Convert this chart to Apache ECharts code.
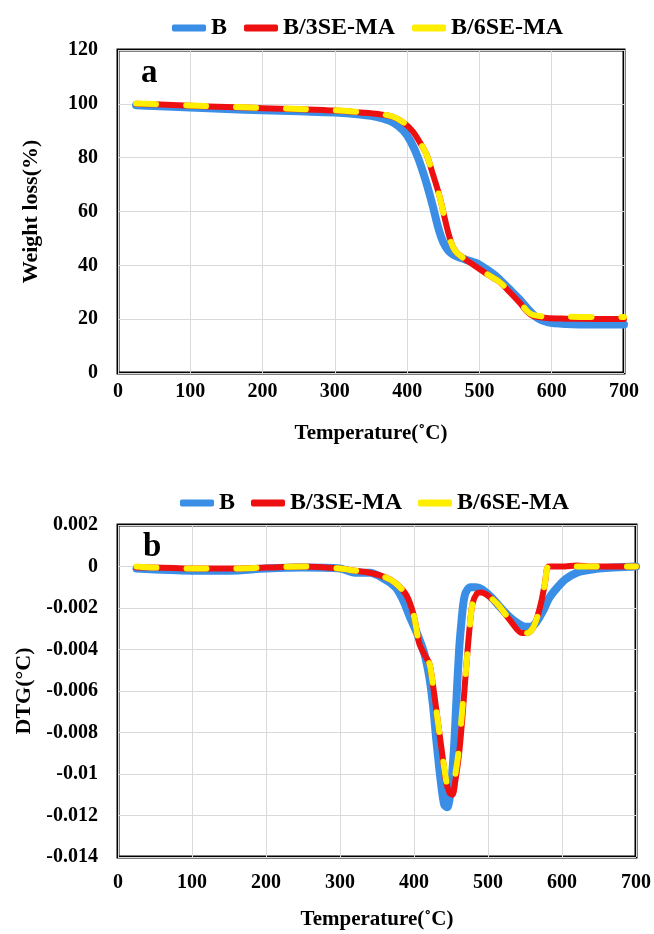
<!DOCTYPE html>
<html>
<head>
<meta charset="utf-8">
<title>TGA / DTG</title>
<script src="https://cdn.jsdelivr.net/npm/echarts@6/dist/echarts.min.js"></script>
<style>
html,body{margin:0;padding:0;background:#fff;}
#chart{width:654px;height:934px;}
</style>
</head>
<body>
<div id="chart"></div>
<script>
// 图例名称
var seriesNames = ['B', 'B/3SE-MA', 'B/6SE-MA'];
var xTicks = [0, 100, 200, 300, 400, 500, 600, 700];

// a: TGA 失重曲线
var tgaTempB = [25, 50, 100, 150, 200, 250, 300, 335, 360, 380, 395, 405, 415, 425, 435, 443, 450, 457, 465, 480, 496, 510, 525, 540, 555, 568, 580, 595, 620, 660, 700];
var tgaB     = [99.5, 99.2, 98.6, 98.1, 97.6, 97.2, 96.8, 96.0, 95.0, 93.2, 90.0, 86.0, 80.0, 72.0, 62.5, 54.0, 48.5, 45.5, 43.8, 42.2, 40.8, 38.5, 35.5, 31.5, 27.5, 23.5, 20.5, 18.8, 18.2, 18.0, 18.0];
var tgaTemp3 = [25, 50, 100, 150, 200, 250, 300, 335, 360, 380, 395, 408, 418, 427, 436, 445, 452, 457, 463, 469, 480, 496, 512, 528, 542, 556, 566, 574, 593, 620, 660, 700];
var tga3     = [100.0, 99.8, 99.3, 98.8, 98.4, 98.0, 97.5, 96.8, 96.2, 95.2, 93.0, 89.7, 85.5, 81.0, 73.5, 65.5, 57.5, 52.0, 47.0, 44.6, 42.3, 39.4, 36.5, 33.8, 30.0, 26.0, 22.8, 21.2, 20.4, 20.2, 20.1, 20.1];
var tgaTemp6 = [25, 50, 100, 150, 200, 250, 300, 335, 360, 380, 395, 408, 418, 427, 436, 445, 452, 457, 463, 469, 480, 496, 512, 528, 542, 556, 566, 574, 593, 620, 660, 700];
var tga6     = [100.1, 99.9, 99.4, 98.9, 98.5, 98.1, 97.6, 96.9, 96.3, 95.3, 93.1, 89.8, 85.6, 81.0, 73.5, 65.4, 57.4, 52.0, 47.0, 44.6, 42.3, 39.4, 36.5, 33.8, 30.1, 26.2, 23.0, 21.6, 21.0, 20.9, 20.8, 20.8];

// b: DTG 曲线
var dtgTempB = [25, 100, 150, 200, 250, 300, 320, 340, 360, 375, 385, 394, 405, 414, 421, 426, 430, 436, 441, 445, 450, 454, 457, 461, 464, 467, 470, 476, 484, 492, 505, 520, 535, 551, 558, 565, 575, 583, 594, 605, 620, 632, 650, 700];
var dtgB     = [-0.0001, -0.0002, -0.0002, -0.0001, -0.00005, -0.0001, -0.0003, -0.0003, -0.0006, -0.001, -0.0016, -0.0024, -0.0033, -0.0042, -0.0054, -0.0068, -0.0083, -0.0103, -0.0115, -0.0116, -0.0106, -0.0088, -0.0067, -0.004, -0.0027, -0.0017, -0.00125, -0.001, -0.001, -0.0011, -0.0015, -0.0021, -0.0026, -0.0029, -0.0029, -0.0027, -0.0021, -0.0015, -0.001, -0.0006, -0.0003, -0.0002, -0.0001, 0];
var dtgTemp3 = [25, 50, 100, 150, 200, 250, 300, 320, 340, 360, 375, 390, 400, 407, 415, 421, 426, 432, 438, 443, 448, 452, 456, 461, 466, 470, 475, 479, 485, 491, 500, 515, 530, 546, 553, 560, 566, 572, 577, 582, 600, 620, 640, 700];
var dtg3     = [-0.00005, -0.00005, -0.0001, -0.0001, -0.00005, 0, -0.0001, -0.0002, -0.0003, -0.0005, -0.0008, -0.0014, -0.0024, -0.0037, -0.0043, -0.0047, -0.0058, -0.0074, -0.009, -0.0103, -0.0109, -0.011, -0.0103, -0.009, -0.007, -0.0051, -0.003, -0.0018, -0.0013, -0.00125, -0.0014, -0.0019, -0.0026, -0.0032, -0.0032, -0.003, -0.0025, -0.0017, -0.0008, 0, 0, 0.00005, 0, 0];
var dtgTemp6 = [25, 50, 100, 150, 200, 250, 300, 320, 340, 360, 375, 390, 400, 407, 415, 421, 426, 432, 438, 443, 447, 451, 455, 460, 465, 470, 475, 479, 485, 491, 500, 515, 530, 546, 553, 560, 566, 572, 577, 582, 600, 620, 640, 700];
var dtg6     = [0, -0.00005, -0.0001, -0.0001, -0.00005, 0, -0.0001, -0.0002, -0.0003, -0.0005, -0.0008, -0.0014, -0.0024, -0.0037, -0.0043, -0.0047, -0.0058, -0.0074, -0.009, -0.0102, -0.0108, -0.0108, -0.0102, -0.009, -0.007, -0.0051, -0.003, -0.0018, -0.0013, -0.00125, -0.0014, -0.0019, -0.0026, -0.0032, -0.0032, -0.003, -0.0025, -0.0017, -0.0008, 0, 0, 0, 0, 0];

var font = 'Liberation Serif';
var colors = ['#3a8ee6', '#ee1010', '#ffee00'];

function pairs(xs, ys){
	var out = [];
	xs.forEach(function(x, i){ out.push([x, ys[i]]); });
	return out;
}

function mkLine(name, idx, data, color, width, dashed, z){
	return {
		name: name,
		type: 'line',
		xAxisIndex: idx,
		yAxisIndex: idx,
		data: data,
		smooth: 0.3,
		symbol: 'none',
		z: z,
		itemStyle: { color: color },
		lineStyle: {
			color: color,
			width: width,
			type: dashed ? [20, 30] : 'solid',
			cap: 'round',
			join: 'round'
		}
	};
}

function xAxisOf(idx, labelMargin, nameGap){
	return {
		gridIndex: idx,
		type: 'value',
		min: 0, max: 700, interval: 100,
		name: 'Temperature(˚C)',
		nameLocation: 'middle',
		nameGap: nameGap,
		nameTextStyle: { fontFamily: font, fontWeight: 'bold', fontSize: 21, color: '#000' },
		axisLine: { show: false },
		axisTick: { show: false },
		axisLabel: { margin: labelMargin, fontFamily: font, fontWeight: 'bold', fontSize: 20, color: '#000' },
		splitLine: { show: true, lineStyle: { color: '#d9d9d9', width: 1 } }
	};
}

function creatChart(){
	var myChart = echarts.init(document.getElementById('chart'));
	var legendStyle = { fontFamily: font, fontWeight: 'bold', fontSize: 24, color: '#000' };
	var option = {
		animation: false,
		backgroundColor: '#fff',
		title: [
			{ text: 'a', left: 136, top: 52, textStyle: { fontFamily: font, fontWeight: 'bold', fontSize: 33, color: '#000' } },
			{ text: 'b', left: 138, top: 526, textStyle: { fontFamily: font, fontWeight: 'bold', fontSize: 33, color: '#000' } }
		],
		legend: [
			{ data: seriesNames, left: 167, top: 11, icon: 'roundRect', itemWidth: 34, itemHeight: 7, itemGap: 17, textStyle: legendStyle },
			{ data: seriesNames.map(function(n){ return { name: n }; }), left: 175, top: 486, icon: 'roundRect', itemWidth: 34, itemHeight: 7, itemGap: 16, textStyle: legendStyle }
		],
		grid: [
			{ left: 118, top: 50, width: 506, height: 323, show: true, borderColor: '#000', borderWidth: 3, backgroundColor: 'transparent' },
			{ left: 118, top: 525, width: 519, height: 332, show: true, borderColor: '#000', borderWidth: 3, backgroundColor: 'transparent' }
		],
		xAxis: [ xAxisOf(0, 9, 50), xAxisOf(1, 16, 52) ],
		yAxis: [
			{
				gridIndex: 0, type: 'value', min: 0, max: 120, interval: 20,
				name: 'Weight loss(%)', nameLocation: 'middle', nameGap: 76,
				nameTextStyle: { fontFamily: font, fontWeight: 'bold', fontSize: 22, color: '#000' },
				axisLine: { show: false }, axisTick: { show: false },
				axisLabel: { margin: 20, fontFamily: font, fontWeight: 'bold', fontSize: 20, color: '#000' },
				splitLine: { show: true, lineStyle: { color: '#d9d9d9', width: 1 } }
			},
			{
				gridIndex: 1, type: 'value', min: -0.014, max: 0.002, interval: 0.002,
				name: 'DTG(°C)', nameLocation: 'middle', nameGap: 82,
				nameTextStyle: { fontFamily: font, fontWeight: 'bold', fontSize: 22, color: '#000' },
				axisLine: { show: false }, axisTick: { show: false },
				axisLabel: {
					margin: 20, fontFamily: font, fontWeight: 'bold', fontSize: 20, color: '#000',
					formatter: function(v){ return String(+v.toFixed(3)); }
				},
				splitLine: { show: true, lineStyle: { color: '#d9d9d9', width: 1 } }
			}
		],
		series: [
			mkLine(seriesNames[0], 0, pairs(tgaTempB, tgaB), colors[0], 8, false, 2),
			mkLine(seriesNames[1], 0, pairs(tgaTemp3, tga3), colors[1], 6, false, 3),
			mkLine(seriesNames[2], 0, pairs(tgaTemp6, tga6), colors[2], 6, true, 4),
			mkLine(seriesNames[0], 1, pairs(dtgTempB, dtgB), colors[0], 8, false, 2),
			mkLine(seriesNames[1], 1, pairs(dtgTemp3, dtg3), colors[1], 6, false, 3),
			mkLine(seriesNames[2], 1, pairs(dtgTemp6, dtg6), colors[2], 6, true, 4)
		]
	};
	myChart.setOption(option);
}
creatChart();
</script>
</body>
</html>
